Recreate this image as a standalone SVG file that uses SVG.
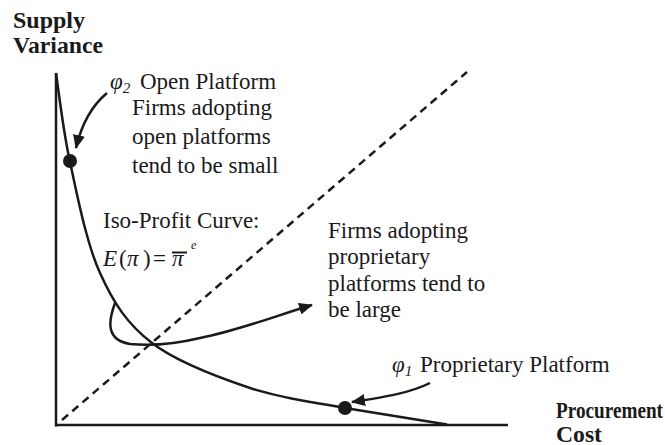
<svg xmlns="http://www.w3.org/2000/svg" width="665" height="445" viewBox="0 0 665 445">
<style>
.t{font-family:"Liberation Serif","Times New Roman",serif;font-size:23px;fill:#1a1a1a}
.b{font-weight:bold}
.i{font-style:italic}
.ln{fill:none;stroke:#1a1a1a;stroke-width:2.5}
.ar{fill:none;stroke:#1a1a1a;stroke-width:2.5}
</style>
<defs>
<marker id="ah" viewBox="0 0 14 12" refX="13" refY="6" markerWidth="14" markerHeight="12" markerUnits="userSpaceOnUse" orient="auto">
<path d="M0,0 L14,6 L0,12 z" fill="#1a1a1a"/>
</marker>
</defs>
<rect width="665" height="445" fill="#fff"/>
<g id="axes">
<line class="ln" x1="56" y1="73" x2="56" y2="426.5"/>
<line class="ln" x1="55" y1="425" x2="508" y2="425"/>
<text class="t b" x="13" y="28" textLength="72" lengthAdjust="spacingAndGlyphs">Supply</text>
<text class="t b" x="13" y="53" textLength="90" lengthAdjust="spacingAndGlyphs">Variance</text>
<text class="t b" x="556" y="418" font-size="22" textLength="107" lengthAdjust="spacingAndGlyphs">Procurement</text>
<text class="t b" x="556" y="442" font-size="22" textLength="46" lengthAdjust="spacingAndGlyphs">Cost</text>
</g>
<g id="diagonal">
<line x1="62" y1="420" x2="467" y2="72" stroke="#1a1a1a" stroke-width="2.5" stroke-dasharray="8,5.5"/>
</g>
<g id="iso-profit-curve">
<path class="ln" d="M56,73 C58.3,87.8 62.7,128.7 70,162 C77.3,195.3 86.3,242.8 100,273 C113.7,303.2 127,323.8 152,343 C177,362.2 217.8,377.2 250,388 C282.2,398.8 312.2,401.8 345,408 L447,424.5"/>
<text class="t" x="103" y="228">Iso-Profit Curve:</text>
<text class="t" y="266"><tspan class="i" x="103">E</tspan><tspan x="119">(</tspan><tspan class="i" x="127">π</tspan><tspan x="143">)</tspan><tspan x="153">=</tspan><tspan class="i" x="172">π</tspan><tspan class="i" x="191" y="249" font-size="12">e</tspan></text>
<line x1="172" y1="252.5" x2="187" y2="252.5" stroke="#1a1a1a" stroke-width="2"/>
</g>
<g id="open-platform">
<circle cx="70" cy="161" r="7" fill="#1a1a1a"/>
<text class="t" y="89"><tspan class="i" x="110">φ</tspan><tspan class="i" font-size="15" dy="4">2</tspan><tspan x="140" dy="-4">Open Platform</tspan></text>
<text class="t" x="132" y="115">Firms adopting</text>
<text class="t" x="132" y="144">open platforms</text>
<text class="t" x="132" y="173">tend to be small</text>
</g>
<g id="proprietary-platform">
<circle cx="345" cy="408" r="7" fill="#1a1a1a"/>
<text class="t" y="372"><tspan class="i" x="392">φ</tspan><tspan class="i" font-size="15" dy="4">1</tspan><tspan x="420" dy="-4">Proprietary Platform</tspan></text>
<text class="t" x="328" y="238">Firms adopting</text>
<text class="t" x="328" y="264">proprietary</text>
<text class="t" x="328" y="291">platforms tend to</text>
<text class="t" x="328" y="317">be large</text>
</g>
<g id="connectors">
<path class="ar" d="M107,93 C95,103 83,118 76,148" marker-end="url(#ah)"/>
<path class="ar" d="M115,303 C108,322 106,340 130,344 C150,346 175,344 200,338 C240,330 275,316 312,305" marker-end="url(#ah)"/>
<path class="ar" d="M430,383 C410,393 385,397 352,402" marker-end="url(#ah)"/>
</g>
</svg>
